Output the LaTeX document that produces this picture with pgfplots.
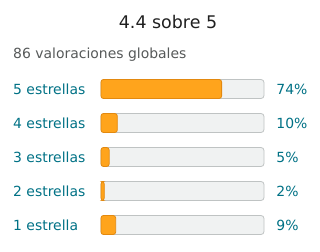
\documentclass[border=0pt]{standalone}
\usepackage{pgfplots}
\pgfplotsset{compat=1.18}
\usepackage{fontspec}
\setmainfont{DejaVu Sans}
\definecolor{barorange}{HTML}{FFA41C}
\definecolor{barorangeedge}{HTML}{E3890F}
\definecolor{bargray}{HTML}{F0F2F2}
\definecolor{bargrayedge}{HTML}{BFC3C3}
\definecolor{linkteal}{HTML}{007185}
\definecolor{subgray}{HTML}{565959}
\tikzset{lbl/.style={anchor=base west, inner sep=0pt, yshift=-5.2bp, font=\fontsize{14}{16}\selectfont, text=linkteal}}
\begin{document}
\begin{tikzpicture}
\path[use as bounding box] (0,0) rectangle (320bp,252bp);
\node[anchor=base, inner sep=0pt, font=\fontsize{17.5}{20}\selectfont, text=black!88] at (168bp,223.7bp) {4.4 sobre 5};
\node[anchor=base west, inner sep=0pt, font=\fontsize{14}{16}\selectfont, text=subgray] at (13bp,193bp) {86 valoraciones globales};
\begin{axis}[
  at={(101bp,10bp)}, anchor=south west,
  scale only axis, width=163bp, height=170bp,
  xmin=0, xmax=100, ymin=0.5, ymax=5.5,
  hide axis, clip=false,
  xbar, bar width=19bp, bar shift=0pt,
]
\addplot[fill=bargray, draw=bargrayedge, line width=0.8bp, rounded corners=3bp] coordinates {(100,5) (100,4) (100,3) (100,2) (100,1)};
\addplot[fill=barorange, draw=barorangeedge, line width=0.8bp, rounded corners=2.5bp] coordinates {(74,5) (10,4) (5,3) (2,2) (9,1)};
\node[lbl] at (axis cs:-54,5) {5 estrellas};
\node[lbl] at (axis cs:-54,4) {4 estrellas};
\node[lbl] at (axis cs:-54,3) {3 estrellas};
\node[lbl] at (axis cs:-54,2) {2 estrellas};
\node[lbl] at (axis cs:-54,1) {1 estrella};
\node[lbl] at (axis cs:107.5,5) {74\%};
\node[lbl] at (axis cs:107.5,4) {10\%};
\node[lbl] at (axis cs:107.5,3) {5\%};
\node[lbl] at (axis cs:107.5,2) {2\%};
\node[lbl] at (axis cs:107.5,1) {9\%};
\end{axis}
\end{tikzpicture}
\end{document}
